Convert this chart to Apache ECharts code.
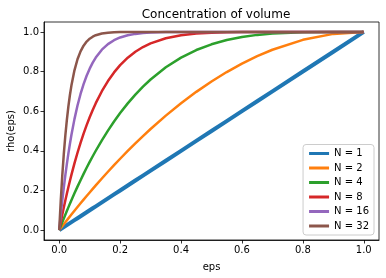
<!DOCTYPE html>
<html><head><meta charset="utf-8">
<script src="https://cdn.jsdelivr.net/npm/echarts@6/dist/echarts.min.js"></script>
<style>html,body{margin:0;padding:0;background:#fff}#c{width:386px;height:278px}</style>
</head><body><div id="c"></div>
<script>
const eps = [0, 0.005, 0.01, 0.015, 0.02, 0.025, 0.03, 0.035, 0.04, 0.05, 0.06, 0.07, 0.08, 0.09, 0.1, 0.11, 0.12, 0.14, 0.16, 0.18, 0.2, 0.225, 0.25, 0.275, 0.3, 0.35, 0.4, 0.45, 0.5, 0.55, 0.6, 0.65, 0.7, 0.8, 0.9, 1.0];
const rhoN1  = [0, 0.005, 0.01, 0.015, 0.02, 0.025, 0.03, 0.035, 0.04, 0.05, 0.06, 0.07, 0.08, 0.09, 0.1, 0.11, 0.12, 0.14, 0.16, 0.18, 0.2, 0.225, 0.25, 0.275, 0.3, 0.35, 0.4, 0.45, 0.5, 0.55, 0.6, 0.65, 0.7, 0.8, 0.9, 1.0];
const rhoN2  = [0, 0.0100, 0.0199, 0.0298, 0.0396, 0.0494, 0.0591, 0.0688, 0.0784, 0.0975, 0.1164, 0.1351, 0.1536, 0.1719, 0.19, 0.2079, 0.2256, 0.2604, 0.2944, 0.3276, 0.36, 0.3994, 0.4375, 0.4744, 0.51, 0.5775, 0.64, 0.6975, 0.75, 0.7975, 0.84, 0.8775, 0.91, 0.96, 0.99, 1.0];
const rhoN4  = [0, 0.0199, 0.0394, 0.0587, 0.0776, 0.0963, 0.1147, 0.1328, 0.1507, 0.1855, 0.2193, 0.2519, 0.2836, 0.3143, 0.3439, 0.3726, 0.4003, 0.4530, 0.5021, 0.5479, 0.5904, 0.6393, 0.6836, 0.7237, 0.7599, 0.8215, 0.8704, 0.9085, 0.9375, 0.9590, 0.9744, 0.9850, 0.9919, 0.9984, 0.9999, 1.0];
const rhoN8  = [0, 0.0393, 0.0773, 0.1139, 0.1492, 0.1833, 0.2163, 0.2480, 0.2786, 0.3366, 0.3904, 0.4404, 0.4868, 0.5297, 0.5695, 0.6063, 0.6404, 0.7008, 0.7521, 0.7956, 0.8322, 0.8699, 0.8999, 0.9237, 0.9424, 0.9681, 0.9832, 0.9916, 0.9961, 0.9983, 0.9993, 0.9998, 1.0, 1.0, 1.0, 1.0];
const rhoN16 = [0, 0.0771, 0.1485, 0.2148, 0.2762, 0.3331, 0.3857, 0.4345, 0.4796, 0.5599, 0.6284, 0.6869, 0.7366, 0.7789, 0.8147, 0.8450, 0.8707, 0.9105, 0.9386, 0.9582, 0.9719, 0.9831, 0.9900, 0.9942, 0.9967, 0.9990, 0.9997, 1.0, 1.0, 1.0, 1.0, 1.0, 1.0, 1.0, 1.0, 1.0];
const rhoN32 = [0, 0.1482, 0.2750, 0.3835, 0.4761, 0.5552, 0.6227, 0.6802, 0.7292, 0.8063, 0.8619, 0.9019, 0.9306, 0.9511, 0.9657, 0.9760, 0.9833, 0.9920, 0.9962, 0.9983, 0.9992, 0.9997, 0.9999, 1.0, 1.0, 1.0, 1.0, 1.0, 1.0, 1.0, 1.0, 1.0, 1.0, 1.0, 1.0, 1.0];
const seriesNames = ['N = 1', 'N = 2', 'N = 4', 'N = 8', 'N = 16', 'N = 32'];
const seriesData = [rhoN1, rhoN2, rhoN4, rhoN8, rhoN16, rhoN32];
const tickValues = [0, 0.2, 0.4, 0.6, 0.8, 1.0];
const colors = ['#1f77b4', '#ff7f0e', '#2ca02c', '#d62728', '#9467bd', '#8c564b'];
const widths = [4, 2.5, 2.5, 2.5, 2.5, 2.5];

const font = 'DejaVu Sans';
const chart = echarts.init(document.getElementById('c'), null, {renderer: 'canvas'});
function axis(name, gap, rot) {
  return {
    type: 'value', min: -0.05, max: 1.05,
    name: name, nameLocation: 'middle', nameGap: gap, nameRotate: rot, nameMoveOverlap: false,
    nameTextStyle: {fontFamily: font, fontSize: 10, color: '#000'},
    axisLine: {show: true, onZero: false, lineStyle: {color: '#000', width: 0.8}},
    axisTick: {show: true, inside: false, length: 3.5, lineStyle: {color: '#000', width: 0.8}, customValues: tickValues},
    axisLabel: {fontFamily: font, fontSize: 10, color: '#000', margin: 5, customValues: tickValues,
      formatter: v => v.toFixed(1)},
    splitLine: {show: false}
  };
}
chart.setOption({
  animation: false,
  color: colors,
  title: {text: 'Concentration of volume', left: 211, textAlign: 'center', top: 4,
    textStyle: {fontFamily: font, fontSize: 12, fontWeight: 'normal', color: '#000'}},
  grid: {left: 44, right: 7, top: 22, bottom: 38, show: true, borderColor: '#000', borderWidth: 0.8,
    containLabel: false, outerBoundsMode: 'none'},
  xAxis: axis('eps', 22, 0),
  yAxis: axis('rho(eps)', 28, 90),
  legend: {
    orient: 'vertical', right: 12, bottom: 43,
    backgroundColor: 'rgba(255,255,255,0.8)', borderColor: '#ccc', borderWidth: 1, borderRadius: 3,
    padding: [4, 5, 4, 6], itemGap: 4.5, itemWidth: 20, itemHeight: 3, icon: 'rect',
    textStyle: {fontFamily: font, fontSize: 10, color: '#000'},
    data: seriesNames
  },
  series: seriesNames.map((n, i) => ({
    name: n, type: 'line', showSymbol: false, smooth: false,
    lineStyle: {width: widths[i], color: colors[i], join: 'round', cap: 'butt'},
    itemStyle: {color: colors[i]},
    data: eps.map((e, j) => [e, seriesData[i][j]])
  }))
});
</script></body></html>
